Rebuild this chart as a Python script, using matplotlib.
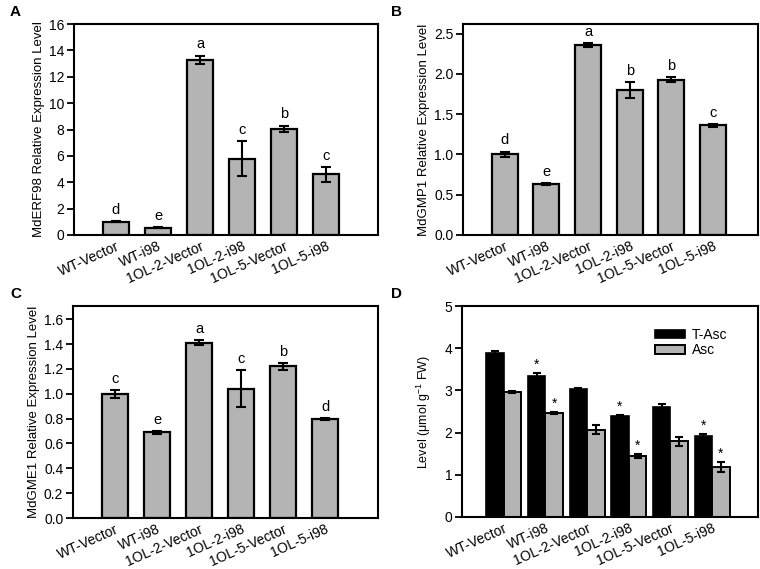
import numpy as np
import matplotlib
matplotlib.use('Agg')
import matplotlib.pyplot as plt

plt.rcParams['font.family'] = ['Liberation Sans', 'DejaVu Sans']
plt.rcParams['mathtext.fontset'] = 'custom'
plt.rcParams['mathtext.rm'] = 'Liberation Sans'
plt.rcParams['mathtext.it'] = 'Liberation Sans:italic'

# Данные
linii = ['WT-Vector', 'WT-i98', '1OL-2-Vector', '1OL-2-i98', '1OL-5-Vector', '1OL-5-i98']

erf98 = [1.0, 0.55, 13.3, 5.8, 8.05, 4.6]
erf98_err = [0.03, 0.05, 0.3, 1.35, 0.25, 0.55]
erf98_bukvy = ['d', 'e', 'a', 'c', 'b', 'c']

gmp1 = [1.0, 0.63, 2.36, 1.80, 1.93, 1.36]
gmp1_err = [0.035, 0.015, 0.02, 0.1, 0.03, 0.02]
gmp1_bukvy = ['d', 'e', 'a', 'b', 'b', 'c']

gme1 = [1.0, 0.69, 1.41, 1.04, 1.22, 0.80]
gme1_err = [0.03, 0.01, 0.02, 0.15, 0.025, 0.007]
gme1_bukvy = ['c', 'e', 'a', 'c', 'b', 'd']

t_asc = [3.88, 3.33, 3.03, 2.39, 2.60, 1.93]
t_asc_err = [0.05, 0.08, 0.02, 0.03, 0.08, 0.04]
t_asc_zvezda = [False, True, False, True, False, True]
asc = [2.96, 2.46, 2.07, 1.45, 1.79, 1.18]
asc_err = [0.02, 0.03, 0.1, 0.05, 0.1, 0.12]
asc_zvezda = [False, True, False, True, False, True]

SERYI = '#b4b4b4'
W, H = 760, 569
fig = plt.figure(figsize=(W / 100, H / 100), dpi=100)


def OsiPx(left, top, right, bottom):
    return fig.add_axes([left / W, 1 - bottom / H, (right - left) / W, (bottom - top) / H])


def Oformit(ax, xmax, ymax, yticks, ylabel, fmt, lpad=3, lsize=9.5):
    x = np.arange(1, len(linii) + 1)
    ax.set_xlim(0, xmax)
    ax.set_ylim(0, ymax)
    ax.set_xticks(x)
    ax.set_xticklabels(linii, rotation=24, ha='right', rotation_mode='anchor', fontsize=10)
    ax.tick_params(axis='x', length=0, pad=3)
    ax.set_yticks(yticks)
    ax.set_yticklabels([fmt.format(t) for t in yticks], fontsize=10)
    ax.tick_params(axis='y', direction='out', length=5, width=1.3, pad=2)
    ax.set_ylabel(ylabel, fontsize=lsize, labelpad=lpad)
    for s in ax.spines.values():
        s.set_linewidth(1.5)


def Stolbiki(ax, vals, errs, bukvy):
    x = np.arange(1, len(vals) + 1)
    ax.bar(x, vals, width=0.63, color=SERYI, edgecolor='black', linewidth=1.6, zorder=2)
    ax.errorbar(x, vals, yerr=errs, fmt='none', ecolor='black', elinewidth=1.5,
                capsize=3.5, capthick=1.5, zorder=3)
    for xi, v, e, b in zip(x, vals, errs, bukvy):
        ax.annotate(b, (xi, v + e), xytext=(0, 3), textcoords='offset points',
                    ha='center', va='bottom', fontsize=10.5)


axA = OsiPx(74, 24, 378, 235)
Stolbiki(axA, erf98, erf98_err, erf98_bukvy)
Oformit(axA, 7.24, 16, np.arange(0, 17, 2), 'MdERF98 Relative Expression Level', '{:.0f}')

axB = OsiPx(463, 24, 758, 235)
Stolbiki(axB, gmp1, gmp1_err, gmp1_bukvy)
Oformit(axB, 7.08, 2.62, np.arange(0, 2.51, 0.5), 'MdGMP1 Relative Expression Level', '{:.1f}')

axC = OsiPx(73, 306, 378, 518)
Stolbiki(axC, gme1, gme1_err, gme1_bukvy)
Oformit(axC, 7.26, 1.707, np.arange(0, 1.61, 0.2), 'MdGME1 Relative Expression Level', '{:.1f}')

axD = OsiPx(462, 306, 758, 517)
x = np.arange(1, len(linii) + 1)
shir = 0.42
axD.bar(x - shir / 2, t_asc, width=shir, color='black', edgecolor='black', linewidth=1.2,
        label='T-Asc', zorder=2)
axD.bar(x + shir / 2, asc, width=shir, color=SERYI, edgecolor='black', linewidth=1.4,
        label='Asc', zorder=2)
axD.errorbar(x - shir / 2, t_asc, yerr=t_asc_err, fmt='none', ecolor='black',
             elinewidth=1.5, capsize=3, capthick=1.5, zorder=3)
axD.errorbar(x + shir / 2, asc, yerr=asc_err, fmt='none', ecolor='black',
             elinewidth=1.5, capsize=3, capthick=1.5, zorder=3)
for xi, v, e, z in zip(x - shir / 2, t_asc, t_asc_err, t_asc_zvezda):
    if z:
        axD.annotate('*', (xi, v + e), xytext=(0, 1), textcoords='offset points',
                     ha='center', va='bottom', fontsize=10)
for xi, v, e, z in zip(x + shir / 2, asc, asc_err, asc_zvezda):
    if z:
        axD.annotate('*', (xi, v + e), xytext=(0, 1), textcoords='offset points',
                     ha='center', va='bottom', fontsize=10)
Oformit(axD, 7.1, 5, np.arange(0, 6, 1), r'Level (μmol g$^{-1}$ FW)', '{:.0f}',
        lpad=8, lsize=9)
axD.legend(loc='upper right', bbox_to_anchor=(0.94, 0.955), frameon=False, fontsize=10,
           handlelength=2.2, handleheight=0.55, handletextpad=0.5, labelspacing=0.1)

for lbl, (px, py) in zip('ABCD', [(10, 12), (391, 12), (10, 294), (391, 294)]):
    fig.text(px / W, 1 - py / H, lbl, fontsize=11, fontweight='bold', ha='left', va='center')

fig.savefig('out.png', dpi=100)
